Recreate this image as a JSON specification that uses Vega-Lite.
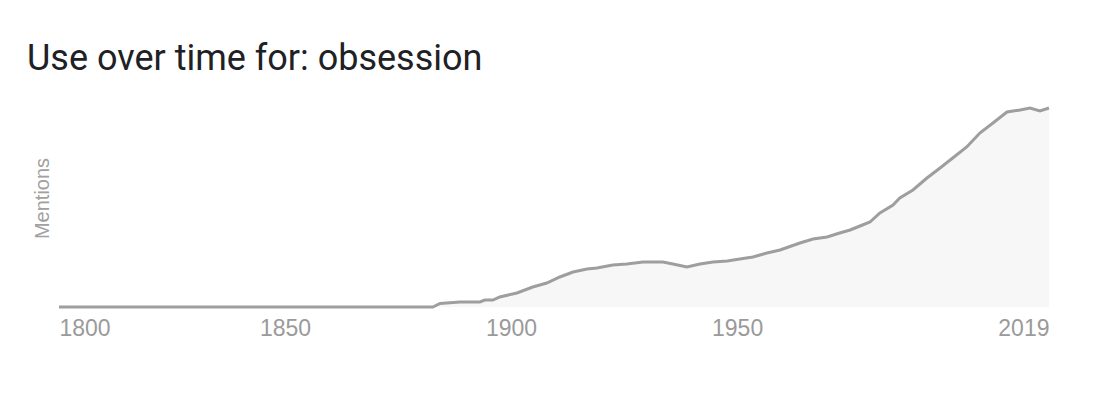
{
  "$schema": "https://vega.github.io/schema/vega-lite/v6.json",
  "width": 990,
  "height": 200,
  "autosize": {"type": "none"},
  "padding": {"left": 59, "top": 107, "right": 57, "bottom": 107},
  "background": "white",
  "config": {"view": {"stroke": null}},
  "title": {
    "text": "Use over time for: obsession",
    "anchor": "start",
    "frame": "group",
    "font": "Roboto",
    "fontSize": 36,
    "fontWeight": "normal",
    "color": "#202124",
    "baseline": "alphabetic",
    "dx": -32,
    "dy": 34,
    "offset": 30
  },
  "data": {
    "values": [
      {"year": 1800, "value": 0},
      {"year": 1882.7, "value": 0},
      {"year": 1884.3, "value": 3.5},
      {"year": 1888.7, "value": 5},
      {"year": 1893.1, "value": 5},
      {"year": 1894.2, "value": 7},
      {"year": 1896, "value": 7},
      {"year": 1897.5, "value": 10},
      {"year": 1901.3, "value": 14},
      {"year": 1904.8, "value": 20},
      {"year": 1907.9, "value": 24},
      {"year": 1910.8, "value": 30},
      {"year": 1913.7, "value": 35},
      {"year": 1916.8, "value": 38},
      {"year": 1919, "value": 39},
      {"year": 1922.5, "value": 42},
      {"year": 1925.6, "value": 43},
      {"year": 1929.2, "value": 45},
      {"year": 1933.6, "value": 45},
      {"year": 1935.8, "value": 43},
      {"year": 1938.9, "value": 40},
      {"year": 1941.8, "value": 43},
      {"year": 1944.7, "value": 45},
      {"year": 1947.8, "value": 46},
      {"year": 1950.6, "value": 48},
      {"year": 1953.5, "value": 50},
      {"year": 1956.6, "value": 54},
      {"year": 1959.5, "value": 57},
      {"year": 1963.9, "value": 64},
      {"year": 1966.8, "value": 68},
      {"year": 1969.9, "value": 70},
      {"year": 1972.7, "value": 74},
      {"year": 1975, "value": 77},
      {"year": 1977.2, "value": 81},
      {"year": 1979.4, "value": 85},
      {"year": 1981.6, "value": 94},
      {"year": 1984.5, "value": 102},
      {"year": 1986, "value": 109},
      {"year": 1988.9, "value": 117},
      {"year": 1992, "value": 129},
      {"year": 1994.9, "value": 139},
      {"year": 1997.7, "value": 149},
      {"year": 2000.8, "value": 160},
      {"year": 2003.7, "value": 174},
      {"year": 2006.6, "value": 184},
      {"year": 2009.7, "value": 195},
      {"year": 2012.6, "value": 197},
      {"year": 2014.8, "value": 199},
      {"year": 2017, "value": 196},
      {"year": 2019, "value": 199}
    ]
  },
  "mark": {
    "type": "area",
    "color": "#f4f4f4",
    "interpolate": "linear",
    "line": {"color": "#9e9e9e", "strokeWidth": 3}
  },
  "encoding": {
    "x": {
      "field": "year",
      "type": "quantitative",
      "scale": {"domain": [1800, 2019], "nice": false, "zero": false},
      "axis": {
        "values": [1800, 1850, 1900, 1950, 2019],
        "format": "d",
        "title": null,
        "grid": false,
        "ticks": false,
        "domain": false,
        "labelFont": "Liberation Sans",
        "labelFontSize": 23,
        "labelColor": "#9a9a9a",
        "labelPadding": 10,
        "labelAlign": {"expr": "datum.value == 1800 ? 'left' : datum.value == 2019 ? 'right' : 'center'"},
        "labelFlush": false,
        "labelOverlap": false
      }
    },
    "y": {
      "field": "value",
      "type": "quantitative",
      "scale": {"domain": [0, 200], "nice": false},
      "axis": {
        "title": "Mentions",
        "labels": false,
        "ticks": false,
        "domain": false,
        "grid": false,
        "titleFont": "Liberation Sans",
        "titleFontSize": 20,
        "titleFontWeight": "normal",
        "titleColor": "#a0a0a0",
        "titleAngle": -90,
        "titleAlign": "center",
        "titleBaseline": "alphabetic",
        "titleX": -11,
        "titleY": 91
      }
    }
  }
}
